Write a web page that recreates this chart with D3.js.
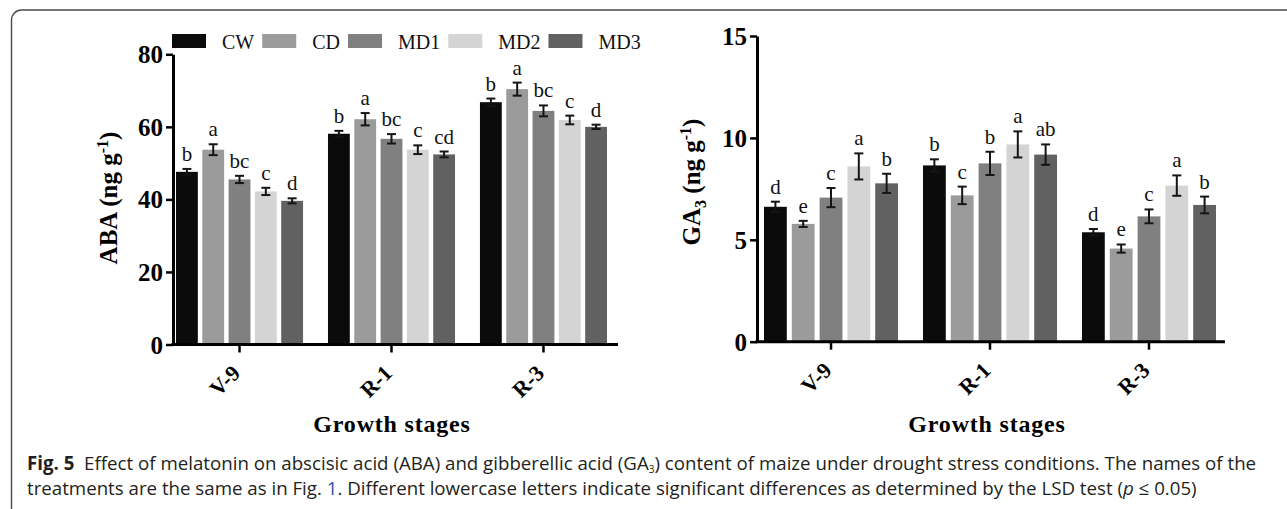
<!DOCTYPE html>
<html>
<head>
<meta charset="utf-8">
<script src="https://cdn.jsdelivr.net/npm/d3@7"></script>
<style>
  html, body { margin: 0; padding: 0; background: #fff; }
  svg { display: block; }
</style>
</head>
<body>
<svg id="fig" width="1287" height="509"></svg>
<script>
// data
var stages = ["V-9", "R-1", "R-3"];
var treatments = ["CW", "CD", "MD1", "MD2", "MD3"];
var barColors = ["#0b0b0b", "#9b9b9b", "#808080", "#d4d4d4", "#616161"];

// ABA, one row per growth stage
var abaMeans = [
    [47.6, 53.7, 45.5, 42.2, 39.6],
    [58.1, 62.1, 56.7, 53.7, 52.4],
    [66.8, 70.4, 64.4, 61.9, 60.0]
];
var abaErr = [
    [0.8, 1.5, 1.0, 1.0, 0.7],
    [0.8, 1.7, 1.3, 1.2, 0.8],
    [1.0, 1.8, 1.5, 1.2, 0.6]
];
var abaLetters = [
    ["b", "a", "bc", "c", "d"],
    ["b", "a", "bc", "c", "cd"],
    ["b", "a", "bc", "c", "d"]
];
var abaTicks = [0, 20, 40, 60, 80];

// GA3
var ga3Means = [
    [6.62, 5.78, 7.07, 8.60, 7.77],
    [8.65, 7.18, 8.75, 9.68, 9.18],
    [5.37, 4.57, 6.15, 7.66, 6.71]
];
var ga3Err = [
    [0.25, 0.15, 0.47, 0.64, 0.47],
    [0.30, 0.43, 0.57, 0.64, 0.50],
    [0.16, 0.20, 0.34, 0.50, 0.41]
];
var ga3Letters = [
    ["d", "e", "c", "a", "b"],
    ["b", "c", "b", "a", "ab"],
    ["d", "e", "c", "a", "b"]
];
var ga3Ticks = [0, 5, 10, 15];

var serif = "'Liberation Serif', 'Times New Roman', serif";
var svg = d3.select("#fig");

// rounded frame of the figure box
svg.append("rect")
    .attr("x", 11.5).attr("y", 10)
    .attr("width", 1300).attr("height", 520)
    .attr("rx", 10)
    .attr("fill", "none")
    .attr("stroke", "#4a4a4a")
    .attr("stroke-width", 1.4);

/*
 * Draws one grouped bar panel with error bars and letters.
 */
function drawPanel(p) {
    var g = svg.append("g");

    var y = d3.scaleLinear().domain([0, p.yMax]).range([p.y0, p.yTop]);

    // groups of bars, first one starts right at the axis
    var x0 = d3.scaleBand()
        .domain(stages)
        .range([p.barStart, p.barEnd])
        .paddingInner(p.padIn)
        .paddingOuter(0);

    var x1 = d3.scaleBand()
        .domain(treatments)
        .range([0, x0.bandwidth()])
        .paddingInner(p.barPad);

    var color = d3.scaleOrdinal().domain(treatments).range(barColors);

    var rows = [];
    stages.forEach(function (s, i) {
        treatments.forEach(function (t, j) {
            rows.push({ stage: s, t: t, v: p.means[i][j], e: p.err[i][j], l: p.letters[i][j] });
        });
    });

    // bars
    g.selectAll("rect.bar")
        .data(rows)
        .enter()
        .append("rect")
        .attr("class", "bar")
        .attr("x", function (d) { return x0(d.stage) + x1(d.t); })
        .attr("y", function (d) { return y(d.v); })
        .attr("width", x1.bandwidth())
        .attr("height", function (d) { return y(0) - y(d.v); })
        .attr("fill", function (d) { return color(d.t); });

    // error bars
    var eb = g.selectAll("g.err")
        .data(rows)
        .enter()
        .append("g")
        .attr("class", "err")
        .attr("stroke", "#151515")
        .attr("stroke-width", 2);
    var cx = function (d) { return x0(d.stage) + x1(d.t) + x1.bandwidth() / 2; };
    eb.append("line")
        .attr("x1", cx).attr("x2", cx)
        .attr("y1", function (d) { return y(d.v + d.e); })
        .attr("y2", function (d) { return y(d.v - d.e); });
    eb.append("line")
        .attr("x1", function (d) { return cx(d) - 4.5; })
        .attr("x2", function (d) { return cx(d) + 4.5; })
        .attr("y1", function (d) { return y(d.v + d.e); })
        .attr("y2", function (d) { return y(d.v + d.e); });
    eb.append("line")
        .attr("x1", function (d) { return cx(d) - 4.5; })
        .attr("x2", function (d) { return cx(d) + 4.5; })
        .attr("y1", function (d) { return y(d.v - d.e); })
        .attr("y2", function (d) { return y(d.v - d.e); });

    // significance letters
    g.selectAll("text.letter")
        .data(rows)
        .enter()
        .append("text")
        .attr("class", "letter")
        .attr("x", cx)
        .attr("y", function (d) { return y(d.v + d.e) - 8; })
        .attr("text-anchor", "middle")
        .style("font-family", serif)
        .style("font-size", "21px")
        .attr("fill", "#111")
        .text(function (d) { return d.l; });

    // y axis
    var yAxis = g.append("g")
        .attr("transform", "translate(" + p.xLeft + ",0)")
        .call(d3.axisLeft(y).tickValues(p.ticks).tickSize(7).tickPadding(3).tickSizeOuter(0));
    yAxis.select(".domain").attr("stroke", "#000").attr("stroke-width", 3);
    yAxis.selectAll(".tick line").attr("stroke", "#000").attr("stroke-width", 2.5);
    yAxis.selectAll(".tick text")
        .style("font-family", serif)
        .style("font-size", "25px")
        .style("font-weight", "bold")
        .attr("fill", "#000")
        .attr("dy", "0.34em");

    // x axis line and ticks
    g.append("line")
        .attr("x1", p.xLeft - 1.5).attr("x2", p.xEnd)
        .attr("y1", p.y0).attr("y2", p.y0)
        .attr("stroke", "#000").attr("stroke-width", 3);
    g.selectAll("line.xt")
        .data(stages)
        .enter()
        .append("line")
        .attr("class", "xt")
        .attr("x1", function (d) { return x0(d) + x0.bandwidth() / 2; })
        .attr("x2", function (d) { return x0(d) + x0.bandwidth() / 2; })
        .attr("y1", p.y0).attr("y2", p.y0 + 8)
        .attr("stroke", "#000").attr("stroke-width", 2.5);

    // rotated stage labels
    g.selectAll("text.stage")
        .data(stages)
        .enter()
        .append("text")
        .attr("class", "stage")
        .attr("transform", function (d) {
            return "translate(" + (x0(d) + x0.bandwidth() / 2 + 2) + "," + (p.y0 + 30) + ") rotate(-45)";
        })
        .attr("text-anchor", "end")
        .style("font-family", serif)
        .style("font-size", "22px")
        .style("font-weight", "bold")
        .text(function (d) { return d; });

    // x title
    g.append("text")
        .attr("x", p.titleX).attr("y", 432)
        .attr("text-anchor", "middle")
        .style("font-family", serif)
        .style("font-size", "24px")
        .style("font-weight", "bold")
        .style("letter-spacing", "0.8px")
        .text("Growth stages");

    // y title
    var yt = g.append("text")
        .attr("transform", "translate(" + p.labelX + "," + p.labelY + ") rotate(-90)")
        .attr("text-anchor", "middle")
        .style("font-family", serif)
        .style("font-size", "25px")
        .style("font-weight", "bold");
    p.label(yt);
}

drawPanel({
    means: abaMeans, err: abaErr, letters: abaLetters, ticks: abaTicks, yMax: 80,
    y0: 344.5, yTop: 54.3,
    xLeft: 173, xEnd: 618,
    barStart: 176, barEnd: 607, padIn: 0.164, barPad: 0.17,
    titleX: 392, labelX: 117, labelY: 198,
    label: function (t) {
        t.append("tspan").text("ABA (ng g");
        t.append("tspan").attr("dy", -9).style("font-size", "16px").text("-1");
        t.append("tspan").attr("dy", 9).text(")");
    }
});

drawPanel({
    means: ga3Means, err: ga3Err, letters: ga3Letters, ticks: ga3Ticks, yMax: 15,
    y0: 341.7, yTop: 36,
    xLeft: 757, xEnd: 1225,
    barStart: 764, barEnd: 1216, padIn: 0.157, barPad: 0.18,
    titleX: 987, labelX: 700, labelY: 182,
    label: function (t) {
        t.append("tspan").text("GA");
        t.append("tspan").attr("dy", 6).style("font-size", "16px").text("3");
        t.append("tspan").attr("dy", -6).text(" (ng g");
        t.append("tspan").attr("dy", -9).style("font-size", "16px").text("-1");
        t.append("tspan").attr("dy", 9).text(")");
    }
});

// legend across the top of the left panel
var legend = svg.append("g");
var lx = 172;
treatments.forEach(function (t, i) {
    legend.append("rect")
        .attr("x", lx).attr("y", 34)
        .attr("width", 34).attr("height", 14)
        .attr("fill", barColors[i]);
    var txt = legend.append("text")
        .attr("x", lx + 50).attr("y", 49)
        .style("font-family", serif)
        .style("font-size", "20px")
        .attr("fill", "#111")
        .text(t);
    lx = lx + 50 + txt.node().getComputedTextLength() + 8;
});

// caption
var capFont = "'Open Sans', 'Noto Sans', sans-serif";
var cap1 = svg.append("text")
    .attr("x", 27).attr("y", 470)
    .style("font-family", capFont)
    .style("font-size", "15px")
    .attr("fill", "#231f20");
cap1.append("tspan").style("font-weight", "bold").text("Fig. 5");
cap1.append("tspan").text("\u00a0\u00a0Effect of melatonin on abscisic acid (ABA) and gibberellic acid (GA");
cap1.append("tspan").attr("dy", 3).style("font-size", "10px").text("3");
cap1.append("tspan").attr("dy", -3).text(") content of maize under drought stress conditions. The names of the");

var cap2 = svg.append("text")
    .attr("x", 27).attr("y", 495)
    .style("font-family", capFont)
    .style("font-size", "15px")
    .attr("fill", "#231f20");
cap2.append("tspan").text("treatments are the same as in Fig.\u00a0");
cap2.append("tspan").attr("fill", "#2b4fa8").text("1");
cap2.append("tspan").text(". Different lowercase letters indicate significant differences as determined by the LSD test (");
cap2.append("tspan").style("font-style", "italic").text("p");
cap2.append("tspan").text("\u00a0\u2264\u00a00.05)");

// fit caption line 1 to the width it takes in the figure
var w1 = cap1.node().getComputedTextLength();
var fs = 15 * 1231 / w1;
cap1.style("font-size", fs + "px");
cap2.style("font-size", fs + "px");
</script>
</body>
</html>
